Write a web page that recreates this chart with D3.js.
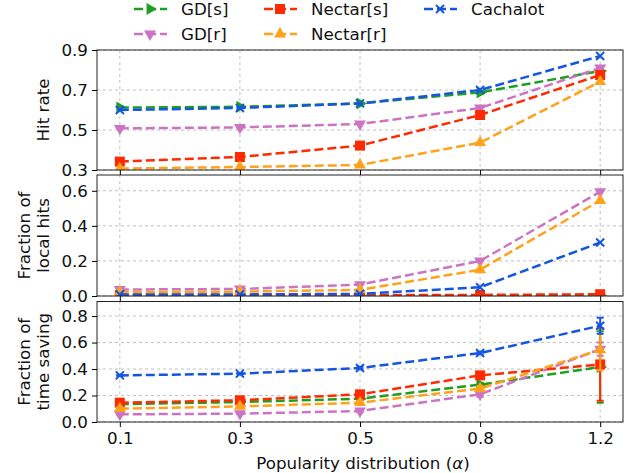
<!DOCTYPE html>
<html>
<head>
<meta charset="utf-8">
<script src="https://cdn.jsdelivr.net/npm/d3@7"></script>
<style>
  body { margin: 0; background: #fff; }
  svg { font-family: "DejaVu Sans", sans-serif; }
</style>
</head>
<body>
<div id="chart"></div>
<script>
// categories (popularity alpha)
const alphas = ["0.1", "0.3", "0.5", "0.8", "1.2"];
const seriesNames = ["GD[s]", "GD[r]", "Nectar[s]", "Nectar[r]", "Cachalot"];
const seriesColors = ["#1f9e1f", "#cc73c4", "#ff2a00", "#ffa21a", "#1556e0"];

// hit rate
const gdsHit = [0.612, 0.616, 0.633, 0.688, 0.795];
const gdrHit = [0.508, 0.513, 0.530, 0.610, 0.810];
const nsHit  = [0.342, 0.365, 0.422, 0.575, 0.775];
const nrHit  = [0.307, 0.315, 0.325, 0.437, 0.742];
const cacHit = [0.600, 0.610, 0.633, 0.700, 0.870];

// fraction of local hits
const gdsLocal = [0.003, 0.003, 0.003, 0.003, 0.004];
const gdrLocal = [0.037, 0.040, 0.065, 0.200, 0.595];
const nsLocal  = [0.005, 0.005, 0.006, 0.006, 0.010];
const nrLocal  = [0.022, 0.025, 0.035, 0.150, 0.545];
const cacLocal = [0.009, 0.009, 0.012, 0.050, 0.305];

// fraction of time saving (+ error)
const gdsTime = [0.134, 0.151, 0.176, 0.282, 0.415];
const gdrTime = [0.058, 0.063, 0.083, 0.209, 0.550];
const nsTime  = [0.146, 0.164, 0.209, 0.352, 0.435];
const nrTime  = [0.101, 0.118, 0.146, 0.252, 0.545];
const cacTime = [0.352, 0.365, 0.408, 0.521, 0.727];
const gdsErr = [0.005, 0.005, 0.010, 0.015, 0.270];
const gdrErr = [0.005, 0.005, 0.010, 0.020, 0.050];
const nsErr  = [0.010, 0.010, 0.015, 0.025, 0.275];
const nrErr  = [0.010, 0.010, 0.015, 0.020, 0.155];
const cacErr = [0.005, 0.005, 0.010, 0.010, 0.060];

const width = 634, height = 473;
const left = 97, right = 623;
const fs = 16.7;

const panels = [
  { top: 50, h: 120, domain: [0.3, 0.9], ticks: [0.3, 0.5, 0.7, 0.9],
    label: ["Hit rate"], values: [gdsHit, gdrHit, nsHit, nrHit, cacHit] },
  { top: 175, h: 121, domain: [0, 0.69], ticks: [0, 0.2, 0.4, 0.6],
    label: ["Fraction of", "local hits"], values: [gdsLocal, gdrLocal, nsLocal, nrLocal, cacLocal] },
  { top: 301.5, h: 120.5, domain: [0, 0.91], ticks: [0, 0.2, 0.4, 0.6, 0.8],
    label: ["Fraction of", "time saving"], values: [gdsTime, gdrTime, nsTime, nrTime, cacTime],
    errors: [gdsErr, gdrErr, nsErr, nrErr, cacErr] }
];

const x = d3.scalePoint().domain(alphas).range([left, right]).padding(0.19);

const svg = d3.select("#chart").append("svg")
  .attr("width", width).attr("height", height);

// marker drawing
function marker(g, i, cx, cy, color) {
  const s = 5;
  if (i === 4) {
    const d = `M${cx - 4},${cy - 4}L${cx + 4},${cy + 4}M${cx - 4},${cy + 4}L${cx + 4},${cy - 4}`;
    g.append("path").attr("d", d).attr("stroke", color).attr("stroke-width", 2).attr("fill", "none");
    return;
  }
  if (i === 2) {
    g.append("rect").attr("x", cx - s).attr("y", cy - s).attr("width", 2 * s).attr("height", 2 * s)
      .attr("fill", color);
    return;
  }
  const rot = i === 0 ? 90 : i === 1 ? 180 : 0;
  g.append("path")
    .attr("d", d3.symbol(d3.symbolTriangle, 62)())
    .attr("transform", `translate(${cx},${cy}) rotate(${rot})`)
    .attr("fill", color);
}

panels.forEach((p, pi) => {
  const y = d3.scaleLinear().domain(p.domain).range([p.top + p.h, p.top]);
  const g = svg.append("g");

  // grid
  g.selectAll(".gx").data(alphas).join("line")
    .attr("x1", d => x(d)).attr("x2", d => x(d))
    .attr("y1", p.top).attr("y2", p.top + p.h)
    .attr("stroke", "#b0b0b0").attr("stroke-width", 0.8).attr("stroke-dasharray", "3,3");
  g.selectAll(".gy").data(p.ticks).join("line")
    .attr("x1", left).attr("x2", right)
    .attr("y1", d => y(d)).attr("y2", d => y(d))
    .attr("stroke", "#b0b0b0").attr("stroke-width", 0.8).attr("stroke-dasharray", "3,3");

  const clipId = "clip" + pi;
  svg.append("clipPath").attr("id", clipId)
    .append("rect").attr("x", left).attr("y", p.top).attr("width", right - left).attr("height", p.h);

  const plot = g.append("g").attr("clip-path", `url(#${clipId})`);
  const line = d3.line().x((d, k) => x(alphas[k])).y(d => y(d));

  p.values.forEach((vals, si) => {
    const col = seriesColors[si];
    const sg = plot.append("g");
    sg.append("path").datum(vals).attr("d", line)
      .attr("fill", "none").attr("stroke", col).attr("stroke-width", 2.5)
      .attr("stroke-dasharray", "9,4");
    if (p.errors) {
      p.errors[si].forEach((e, k) => {
        const cx = x(alphas[k]);
        sg.append("line").attr("x1", cx).attr("x2", cx)
          .attr("y1", y(vals[k] - e)).attr("y2", y(vals[k] + e))
          .attr("stroke", col).attr("stroke-width", 2);
        [vals[k] - e, vals[k] + e].forEach(v => {
          sg.append("line").attr("x1", cx - 3.5).attr("x2", cx + 3.5)
            .attr("y1", y(v)).attr("y2", y(v))
            .attr("stroke", col).attr("stroke-width", 2);
        });
      });
    }
    vals.forEach((v, k) => marker(sg, si, x(alphas[k]), y(v), col));
  });

  // frame
  g.append("rect").attr("x", left).attr("y", p.top).attr("width", right - left).attr("height", p.h)
    .attr("fill", "none").attr("stroke", "#222").attr("stroke-width", 1);

  // axes
  const yAxis = d3.axisLeft(y).tickValues(p.ticks).tickFormat(d3.format(".1f")).tickSize(5).tickPadding(4);
  g.append("g").attr("transform", `translate(${left},0)`).call(yAxis)
    .call(a => a.select(".domain").remove())
    .call(a => a.selectAll("text").attr("font-size", fs).attr("fill", "#111")
      .attr("font-family", "DejaVu Sans"));

  const xAxis = d3.axisBottom(x).tickSize(5).tickPadding(5);
  if (pi < 2) xAxis.tickFormat("");
  g.append("g").attr("transform", `translate(0,${p.top + p.h})`).call(xAxis)
    .call(a => a.select(".domain").remove())
    .call(a => a.selectAll("text").attr("font-size", fs).attr("fill", "#111")
      .attr("font-family", "DejaVu Sans"));

  // y label
  const cy = p.top + p.h / 2;
  const n = p.label.length;
  p.label.forEach((t, li) => {
    const lx = 43 - (n - 1 - li) * 19;
    svg.append("text")
      .attr("transform", `translate(${lx},${cy}) rotate(-90)`)
      .attr("text-anchor", "middle").attr("dominant-baseline", "central")
      .attr("font-size", fs).attr("fill", "#111").text(t);
  });
});

// x label
const xl = svg.append("text").attr("x", 363).attr("y", 469)
  .attr("text-anchor", "middle").attr("font-size", fs).attr("fill", "#111");
xl.append("tspan").text("Popularity distribution (");
xl.append("tspan").attr("font-style", "italic").text("α");
xl.append("tspan").text(")");

// legend (3 columns, filled column-wise)
const legPos = [[133, 9], [133, 34], [263, 9], [263, 34], [423, 9]];
seriesNames.forEach((name, i) => {
  const [lx, ly] = legPos[i];
  const lg = svg.append("g");
  lg.append("line").attr("x1", lx).attr("x2", lx + 34).attr("y1", ly).attr("y2", ly)
    .attr("stroke", seriesColors[i]).attr("stroke-width", 2.5).attr("stroke-dasharray", "9,4")
    .attr("stroke-dashoffset", -1);
  marker(lg, i, lx + 17, ly, seriesColors[i]);
  lg.append("text").attr("x", lx + 48).attr("y", ly).attr("dominant-baseline", "central")
    .attr("font-size", fs).attr("fill", "#111").text(name);
});
</script>
</body>
</html>
